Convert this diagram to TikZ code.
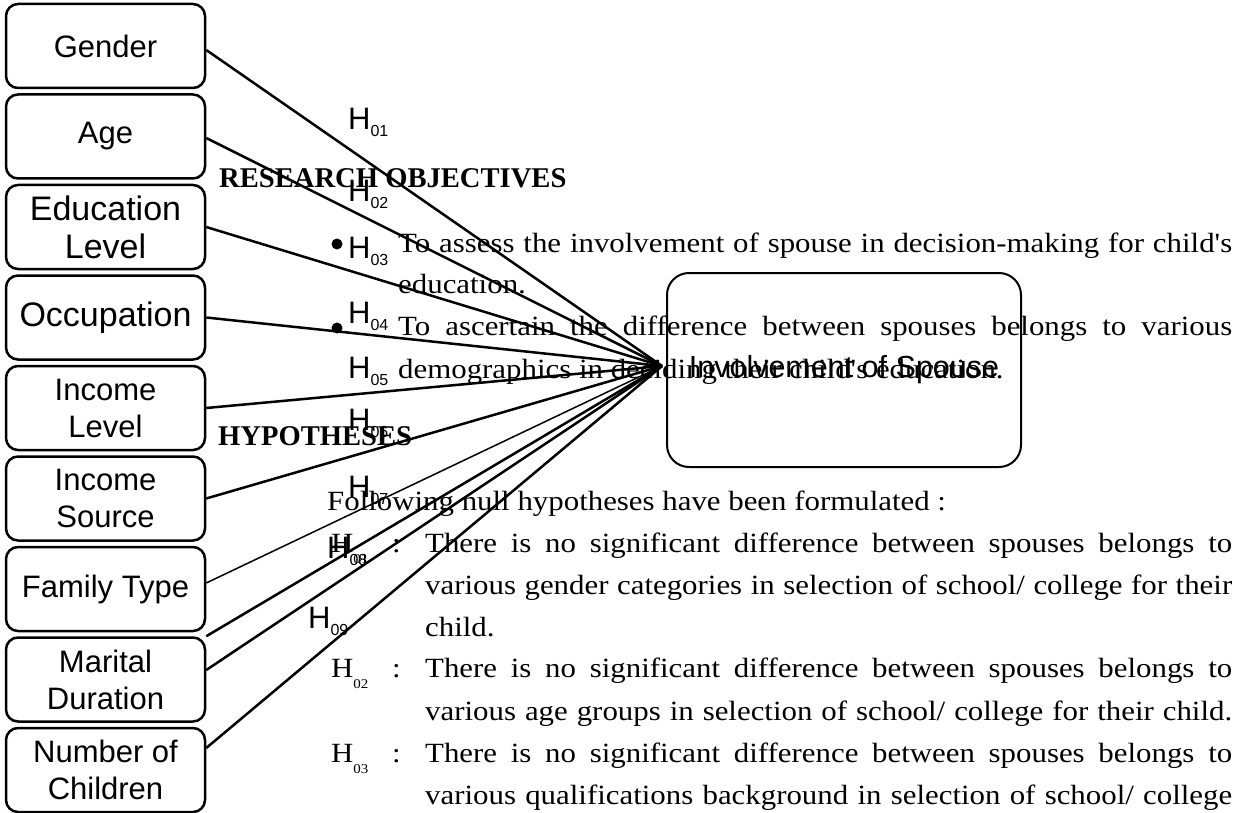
\documentclass[tikz,border=0pt]{standalone}
\usepackage{fontspec}
\newfontfamily\bodyf{Liberation Serif}[FakeStretch=1.11]
\newfontfamily\headf{Liberation Serif}
\newfontfamily\sansf{Liberation Sans}
\newcommand\Hsub[1]{H\raisebox{-7pt}{\fontsize{16}{16}\selectfont #1}}
\newcommand\Htsub[1]{H\raisebox{-11pt}{\fontsize{13.5}{14}\selectfont #1}}
\newcommand\apos{\char"27\relax}
\tikzset{
  leftbox/.style={draw, rounded corners=12pt, line width=2.5pt, minimum width=199pt,
    minimum height=84pt, align=center, inner sep=0pt,
    font=\sansf\fontsize{31}{37}\selectfont},
  bigtext/.style={font=\sansf\fontsize{34}{38}\selectfont},
  mainbox/.style={draw, rounded corners=22pt, line width=2pt, minimum width=354pt,
    minimum height=194pt, inner sep=0pt, font=\sansf\fontsize{30.5}{36}\selectfont},
  link/.style={line width=2.5pt},
  thinlink/.style={line width=1.5pt},
  txt/.style={anchor=base west, inner sep=0pt, font=\bodyf\fontsize{27.8}{34}\selectfont},
  head/.style={anchor=base west, inner sep=0pt, font=\headf\bfseries\fontsize{28.6}{34}\selectfont},
  hl/.style={anchor=base west, inner sep=0pt, font=\sansf\fontsize{31}{31}\selectfont},
  dot/.style={circle, fill, inner sep=0pt, minimum size=11pt}
}
\begin{document}
\begin{tikzpicture}[x=1pt,y=-1pt]
\useasboundingbox (0,0) rectangle (1244,813);
% text layer
\node[head] (ro) at (219,188) {RESEARCH OBJECTIVES};
\node[dot] (d1) at (337,244) {};
\node[txt] (o1) at (398,252) {\makebox[834pt][s]{To assess the involvement of spouse in decision-making for child\apos s}};
\node[txt] (o2) at (398,293) {education.};
\node[dot] (d2) at (337,328) {};
\node[txt] (o3) at (398,335) {\makebox[834pt][s]{To ascertain the difference between spouses belongs to various}};
\node[txt] (o4) at (398,378) {demographics in deciding their child\apos s education.};
\node[head] (hy) at (218,445) {HYPOTHESES};
\node[txt] (r0) at (327,510) {Following null hypotheses have been formulated :};
\node[txt] (h1) at (331,552) {\Htsub{01}};
\node[txt] (c1) at (392,552) {:};
\node[txt] (r1) at (425,552) {\makebox[807pt][s]{There is no significant difference between spouses belongs to}};
\node[txt] (r2) at (425,594) {\makebox[807pt][s]{various gender categories in selection of school/ college for their}};
\node[txt] (r3) at (425,636) {child.};
\node[txt] (h2) at (331,677) {\Htsub{02}};
\node[txt] (c2) at (392,677) {:};
\node[txt] (r4) at (425,677) {\makebox[807pt][s]{There is no significant difference between spouses belongs to}};
\node[txt] (r5) at (425,720) {\makebox[807pt][s]{various age groups in selection of school/ college for their child.}};
\node[txt] (h3) at (331,762) {\Htsub{03}};
\node[txt] (c3) at (392,762) {:};
\node[txt] (r6) at (425,762) {\makebox[807pt][s]{There is no significant difference between spouses belongs to}};
\node[txt] (r7) at (425,804) {\makebox[807pt][s]{various qualifications background in selection of school/ college}};
% diagram boxes
\node[leftbox] (gen) at (105.5,46) {Gender};
\node[leftbox] (age) at (105.5,136.5) {Age};
\node[leftbox, bigtext] (edu) at (105.5,227) {Education\\Level};
\node[leftbox, bigtext] (occ) at (105.5,317.5) {Occupation};
\node[leftbox] (inl) at (105.5,408) {Income\\Level};
\node[leftbox] (ins) at (105.5,498.5) {Income\\Source};
\node[leftbox] (fam) at (105.5,589) {Family Type};
\node[leftbox] (mar) at (105.5,679.5) {Marital\\Duration};
\node[leftbox] (num) at (105.5,770) {Number of\\Children};
\node[mainbox] (inv) at (844,370) {Involvement of Spouse};
\coordinate (hub) at (662,366);
% connectors
\draw[link] ([yshift=-4pt]gen.east) -- (hub);
\draw[link] ([yshift=-1.5pt]age.east) -- (hub);
\draw[link] (edu.east) -- (hub);
\draw[link] (occ.east) -- (hub);
\draw[link] (inl.east) -- (hub);
\draw[link] (ins.east) -- (hub);
\draw[thinlink] ([yshift=6pt]fam.east) -- (hub);
\draw[link] (mar.north east) -- (hub);
\draw[link] ([yshift=9.5pt]mar.east) -- (hub);
\draw[link] ([yshift=22pt]num.east) -- (hub);
% hypothesis labels
\node[hl] (l1) at (348,130) {\Hsub{01}};
\node[hl] (l2) at (348,201) {\Hsub{02}};
\node[hl] (l3) at (348,258) {\Hsub{03}};
\node[hl] (l4) at (348,323) {\Hsub{04}};
\node[hl] (l5) at (348,378) {\Hsub{05}};
\node[hl] (l6) at (348,430) {\Hsub{06}};
\node[hl] (l7) at (348,497) {\Hsub{07}};
\node[hl] (l8) at (327,558) {\Hsub{08}};
\node[hl] (l9) at (308,628) {\Hsub{09}};
\end{tikzpicture}
\end{document}
